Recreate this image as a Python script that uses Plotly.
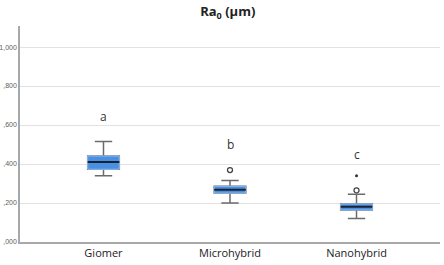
import plotly.graph_objects as go

categories = ["Giomer", "Microhybrid", "Nanohybrid"]
q1 = [0.373, 0.251, 0.164]
median = [0.410, 0.268, 0.181]
q3 = [0.441, 0.286, 0.195]
lower_whisker = [0.340, 0.200, 0.120]
upper_whisker = [0.516, 0.316, 0.245]
outlier_x = [1, 2]
outlier_y = [0.369, 0.265]
extreme_x = [2]
extreme_y = [0.340]
letters = ["a", "b", "c"]
letter_y = [0.643, 0.500, 0.448]
tick_vals = [0.0, 0.2, 0.4, 0.6, 0.8, 1.0]
tick_text = [",000", ",200", ",400", ",600", ",800", "1,000"]

pos = list(range(len(categories)))
fig = go.Figure()

# whiskers + caps
fig.add_trace(go.Box(
    x=pos, q1=q1, median=median, q3=q3,
    lowerfence=lower_whisker, upperfence=upper_whisker,
    width=0.25, whiskerwidth=0.55,
    line=dict(color="#6b6b6b", width=1.5),
    fillcolor="rgba(0,0,0,0)", boxpoints=False, hoverinfo="skip",
))
# box body
fig.add_trace(go.Box(
    x=pos, q1=q1, median=median, q3=q3,
    lowerfence=q1, upperfence=q3,
    width=0.25, whiskerwidth=0,
    line=dict(color="#8fbdf0", width=1),
    fillcolor="#4a8fe2", boxpoints=False, hoverinfo="skip",
))
# median line
fig.add_trace(go.Box(
    x=pos, q1=median, median=median, q3=median,
    lowerfence=median, upperfence=median,
    width=0.25, whiskerwidth=0,
    line=dict(color="#1b2230", width=2),
    fillcolor="rgba(0,0,0,0)", boxpoints=False, hoverinfo="skip",
))
fig.add_trace(go.Scatter(
    x=outlier_x, y=outlier_y, mode="markers",
    marker=dict(symbol="circle-open", size=5, color="#444", line=dict(width=1.3)),
    hoverinfo="skip",
))
fig.add_trace(go.Scatter(
    x=extreme_x, y=extreme_y, mode="markers",
    marker=dict(symbol="circle", size=3, color="#333"),
    hoverinfo="skip",
))

for p, t, y in zip(pos, letters, letter_y):
    fig.add_annotation(x=p, y=y, text=t, showarrow=False,
                       font=dict(family="Open Sans", size=12, color="#333"))

fig.update_layout(
    width=444, height=265,
    margin=dict(l=20, r=4, t=26, b=23, autoexpand=False),
    paper_bgcolor="white", plot_bgcolor="white",
    showlegend=False,
    title=dict(text="<b>Ra<sub>0</sub> (µm)</b>", x=0.513, xanchor="center",
               y=0.955, yanchor="middle",
               font=dict(family="Open Sans", size=13, color="#222")),
)
fig.update_xaxes(
    range=[-0.66, 2.66], tickvals=pos, ticktext=categories, automargin=False,
    showgrid=False, zeroline=False, showline=True, linecolor="#a8a8a8", linewidth=1.5,
    ticks="", tickfont=dict(family="Open Sans", size=11, color="#222"),
)
fig.update_yaxes(
    range=[0, 1.108], tickvals=tick_vals, ticktext=tick_text, automargin=False,
    showgrid=True, gridcolor="#e2e2e2", gridwidth=1.2, zeroline=False,
    showline=True, linecolor="#a8a8a8", linewidth=1.5,
    ticks="", ticklen=0, tickfont=dict(family="Liberation Sans", size=7, color="#606060"),
)

fig.write_html("out.html", config={"displayModeBar": False},
               post_script="document.body.style.margin='0';")
